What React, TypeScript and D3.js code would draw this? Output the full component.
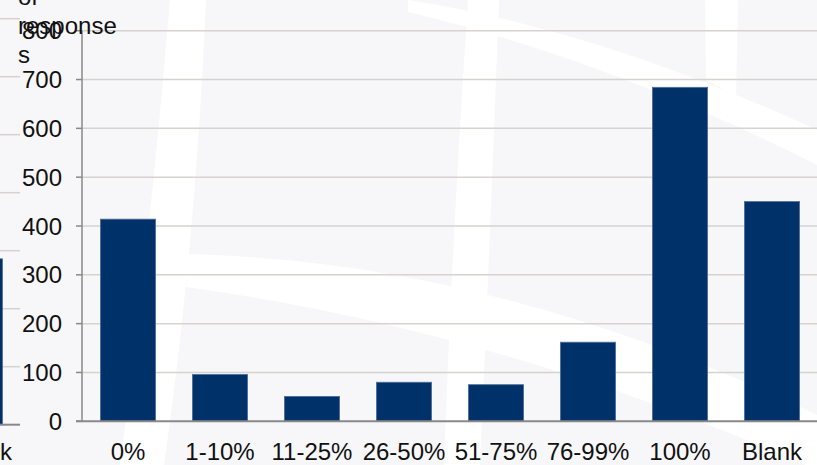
import React, { useEffect, useRef } from "react";
import * as d3 from "d3";

// values
const categories = ["0%", "1-10%", "11-25%", "26-50%", "51-75%", "76-99%", "100%", "Blank"];
const responses = [414, 96, 51, 80, 75, 162, 684, 450];
const yTicks = [0, 100, 200, 300, 400, 500, 600, 700, 800];
const titleLines = ["of", "response", "s"];

// the edge of the neighbouring chart that shows at the left of the crop
const neighbourTicks = [0, 100, 200, 300, 400, 500, 600, 700];
const neighbourBlank = 286;

const W = 817;
const H = 465;
const FONT = "'Liberation Sans', Arial, sans-serif";
const FS = 24;

const App = () => {
  const svgRef = useRef<SVGSVGElement | null>(null);

  useEffect(() => {
    const svg = d3.select(svgRef.current);
    svg.selectAll("*").remove();

    const margin = { top: 30.7, right: 0, bottom: 43.7, left: 82 };
    const x = d3
      .scaleBand()
      .domain(categories)
      .range([margin.left, margin.left + 736])
      .paddingInner(0.4)
      .paddingOuter(0.2);
    const y = d3.scaleLinear().domain([0, 800]).range([H - margin.bottom, margin.top]);

    // background + watermark swooshes
    svg.append("rect").attr("width", W).attr("height", H).attr("fill", "#f7f7f9");
    const wm = svg.append("g").attr("fill", "#ffffff");
    wm.append("path").attr("d", "M170,0 L206,0 Q196,240 164,465 L120,465 Q150,240 170,0 Z");
    wm.append("path").attr("d", "M468,0 L499,0 Q490,240 480,465 L444,465 Q452,240 468,0 Z");
    wm.append("path").attr("d", "M705,0 L738,0 L736,96 L706,80 Z");
    wm.append("path").attr("d", "M408,0 Q600,30 817,130 L817,165 Q610,60 408,12 Z");
    wm.append("path").attr("d", "M188,254 Q500,262 817,415 L817,470 Q500,330 186,287 Z");

    // neighbour chart remnant
    const ny = d3.scaleLinear().domain([0, 700]).range([424.7, 18.7]);
    const nb = svg.append("g");
    nb.selectAll("line.ng")
      .data(neighbourTicks.slice(1))
      .join("line")
      .attr("x1", 0)
      .attr("x2", 20)
      .attr("y1", (d) => ny(d))
      .attr("y2", (d) => ny(d))
      .attr("stroke", "#d6d3cf")
      .attr("stroke-width", 1.5);
    nb.append("rect")
      .attr("x", -53)
      .attr("width", 55.5)
      .attr("y", ny(neighbourBlank))
      .attr("height", ny(0) - ny(neighbourBlank))
      .attr("fill", "#003269")
      .attr("stroke", "#4d6e99")
      .attr("stroke-width", 0.8);
    nb.append("line")
      .attr("x1", 0)
      .attr("x2", 20)
      .attr("y1", ny(0))
      .attr("y2", ny(0))
      .attr("stroke", "#888")
      .attr("stroke-width", 2);
    nb.append("text")
      .attr("x", 12)
      .attr("y", 460)
      .attr("text-anchor", "end")
      .attr("font-family", FONT)
      .attr("font-size", FS)
      .attr("fill", "#111")
      .text("Blank");

    // gridlines
    svg
      .append("g")
      .selectAll("line")
      .data(yTicks.slice(1))
      .join("line")
      .attr("x1", margin.left)
      .attr("x2", W)
      .attr("y1", (d) => y(d))
      .attr("y2", (d) => y(d))
      .attr("stroke", "#d6d3cf")
      .attr("stroke-width", 1.5);

    // bars
    svg
      .append("g")
      .selectAll("rect")
      .data(responses)
      .join("rect")
      .attr("x", (_d, i) => x(categories[i]) as number)
      .attr("y", (d) => y(d))
      .attr("width", x.bandwidth())
      .attr("height", (d) => y(0) - y(d))
      .attr("fill", "#003269")
      .attr("stroke", "#4d6e99")
      .attr("stroke-width", 0.8);

    // y axis
    const yAxis = svg.append("g");
    yAxis
      .append("line")
      .attr("x1", margin.left)
      .attr("x2", margin.left)
      .attr("y1", y(800))
      .attr("y2", y(0))
      .attr("stroke", "#888")
      .attr("stroke-width", 1.5);
    yAxis
      .selectAll("line.tick")
      .data(yTicks)
      .join("line")
      .attr("class", "tick")
      .attr("x1", margin.left - 6)
      .attr("x2", margin.left)
      .attr("y1", (d) => y(d))
      .attr("y2", (d) => y(d))
      .attr("stroke", "#888")
      .attr("stroke-width", 1.5);
    yAxis
      .selectAll("text")
      .data(yTicks)
      .join("text")
      .attr("x", 62)
      .attr("y", (d) => y(d) + 8.5)
      .attr("text-anchor", "end")
      .attr("font-family", FONT)
      .attr("font-size", FS)
      .attr("fill", "#111")
      .text((d) => d);

    // x axis
    svg
      .append("line")
      .attr("x1", margin.left - 6)
      .attr("x2", W)
      .attr("y1", y(0))
      .attr("y2", y(0))
      .attr("stroke", "#888")
      .attr("stroke-width", 2);
    svg
      .append("g")
      .selectAll("text")
      .data(categories)
      .join("text")
      .attr("x", (d) => (x(d) as number) + x.bandwidth() / 2)
      .attr("y", 459.5)
      .attr("text-anchor", "middle")
      .attr("font-family", FONT)
      .attr("font-size", FS)
      .attr("fill", "#111")
      .text((d) => d);

    // axis title (wrapped, drawn over the 800 label like the original)
    svg
      .append("g")
      .selectAll("text")
      .data(titleLines)
      .join("text")
      .attr("x", 18)
      .attr("y", (_d, i) => 5 + i * 29.2)
      .attr("font-family", FONT)
      .attr("font-size", FS)
      .attr("fill", "#111")
      .text((d) => d);
  }, []);

  return (
    <svg
      ref={svgRef}
      width={W}
      height={H}
      style={{ position: "fixed", left: 0, top: 0, display: "block" }}
    />
  );
};

export default App;
